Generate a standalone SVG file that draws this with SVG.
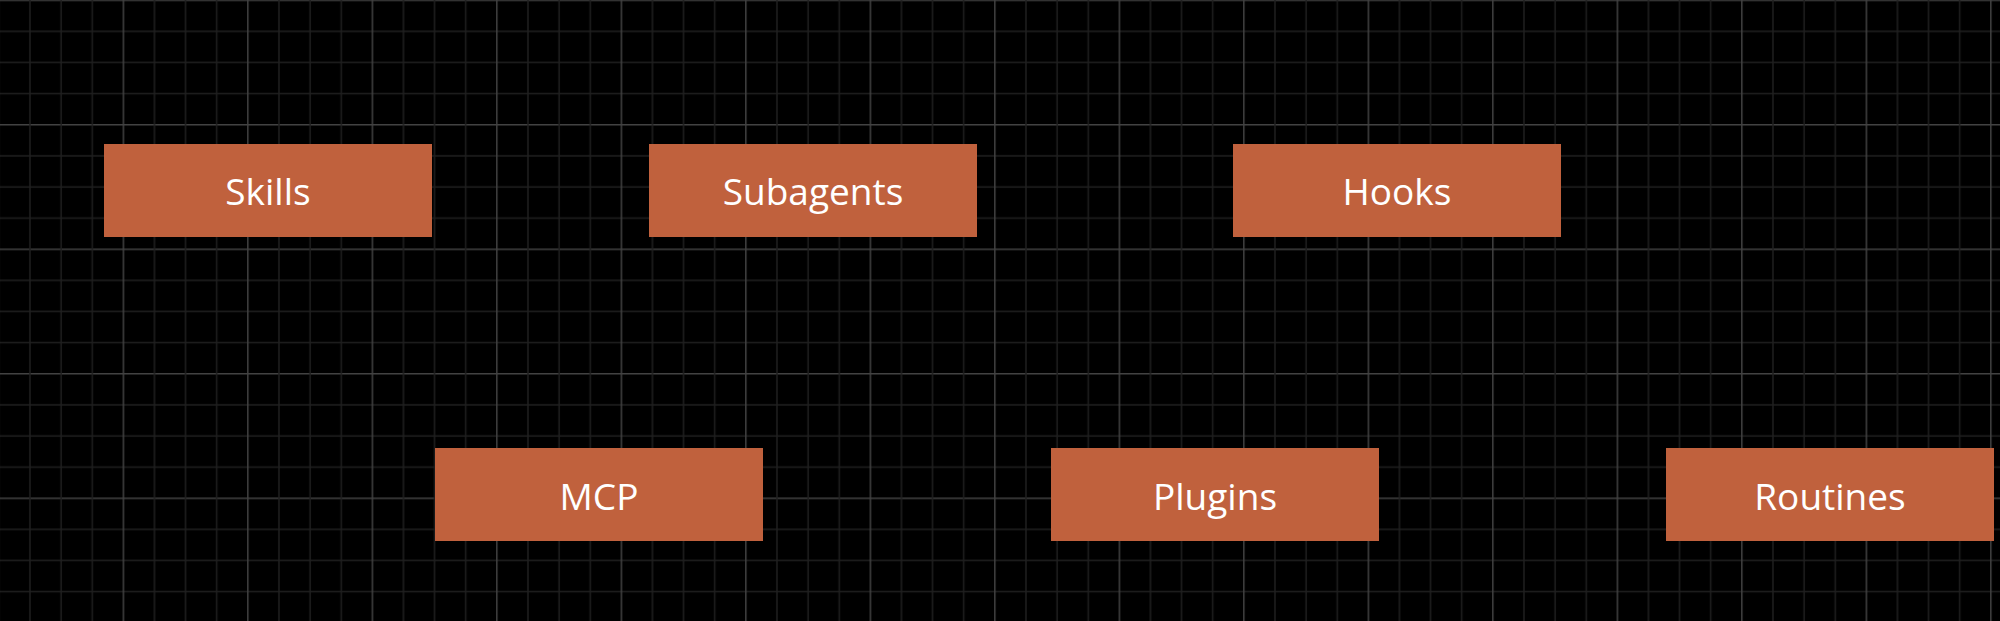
<svg xmlns="http://www.w3.org/2000/svg" width="2000" height="621" viewBox="0 0 2000 621">
  <style>
    .box { fill: #C0613D; }
    .lbl { fill: #FFFFFF; font-family: "Open Sans", "Noto Sans", "DejaVu Sans", sans-serif; font-size: 37px; text-anchor: middle; }
    .maj { fill: #424242; }
    .min { fill: #1f1f1f; }
  </style>
  <defs>
    <pattern id="gv" patternUnits="userSpaceOnUse" x="-1.9" y="0" width="124.5" height="621">
      <rect class="maj" x="0" y="0" width="1.5" height="621"/>
      <rect class="min" x="31.125" y="0" width="1.5" height="621"/>
      <rect class="min" x="62.25" y="0" width="1.5" height="621"/>
      <rect class="min" x="93.375" y="0" width="1.5" height="621"/>
    </pattern>
    <pattern id="gh" patternUnits="userSpaceOnUse" x="0" y="-0.5" width="2000" height="124.5">
      <rect class="maj" x="0" y="0" width="2000" height="1.5"/>
      <rect class="min" x="0" y="31.125" width="2000" height="1.5"/>
      <rect class="min" x="0" y="62.25" width="2000" height="1.5"/>
      <rect class="min" x="0" y="93.375" width="2000" height="1.5"/>
    </pattern>
  </defs>
  <rect x="0" y="0" width="2000" height="621" fill="#000000"/>
  <rect x="0" y="0" width="2000" height="621" fill="url(#gh)"/>
  <rect x="0" y="0" width="2000" height="621" fill="url(#gv)"/>
  <g id="connectors"></g>
  <g id="skills">
    <rect class="box" x="104" y="144" width="328" height="93"/>
    <text class="lbl" x="268" y="205">Skills</text>
  </g>
  <g id="subagents">
    <rect class="box" x="649" y="144" width="328" height="93"/>
    <text class="lbl" x="813" y="205">Subagents</text>
  </g>
  <g id="hooks">
    <rect class="box" x="1233" y="144" width="328" height="93"/>
    <text class="lbl" x="1397" y="205">Hooks</text>
  </g>
  <g id="mcp">
    <rect class="box" x="435" y="448" width="328" height="93"/>
    <text class="lbl" x="599" y="510">MCP</text>
  </g>
  <g id="plugins">
    <rect class="box" x="1051" y="448" width="328" height="93"/>
    <text class="lbl" x="1215" y="510">Plugins</text>
  </g>
  <g id="routines">
    <rect class="box" x="1666" y="448" width="328" height="93"/>
    <text class="lbl" x="1830" y="510">Routines</text>
  </g>
</svg>
